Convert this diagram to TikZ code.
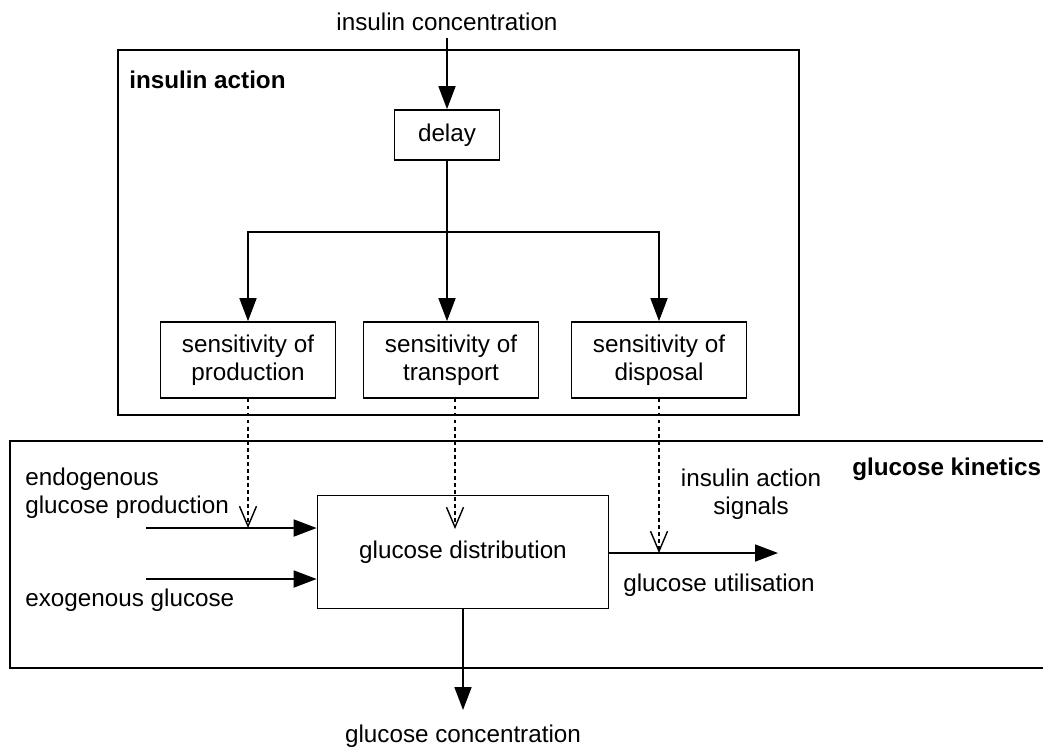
\documentclass[tikz,border=0pt]{standalone}
\usepackage{fontspec}
\setmainfont{Liberation Sans}
\usetikzlibrary{arrows.meta}
\tikzset{
  box/.style={draw, line width=1pt, align=center, inner sep=0pt},
  sens/.style={box, minimum width=3.5cm, minimum height=1.52cm},
  lbl/.style={inner sep=0pt, align=left},
  hdr/.style={lbl, font=\fontsize{13.8pt}{16pt}\selectfont\bfseries},
  frame/.style={line width=1pt},
  arr/.style={line width=1pt, -{Triangle[length=0.46cm, width=0.34cm]}},
  sig/.style={line width=0.9pt, dash pattern=on 2pt off 2pt,
    -{Straight Barb[length=0.4cm, width=0.34cm, line width=0.8pt]}},
}

\begin{document}
\begin{tikzpicture}[x=0.02cm, y=-0.02cm, font=\fontsize{13.8pt}{16pt}\selectfont]
	\useasboundingbox (0,0) rectangle (1043,752);
	\clip (0,0) rectangle (1043,752);
	
	%%%%% insulin action %%%%%
	\draw[frame] (118,50) rectangle (799,415);
	\node[hdr, anchor=west] (iatitle) at (129,80) {insulin action};
	
	\node[lbl, anchor=south, inner ysep=4pt] (inconc) at (447,38) {insulin concentration};
	\node[box, minimum width=2.1cm, minimum height=1cm] (delay) at (447,135) {delay};
	\node[sens] (prod) at (248,360) {sensitivity of\\production};
	\node[sens] (trans) at (451,360) {sensitivity of\\transport};
	\node[sens] (disp) at (659,360) {sensitivity of\\disposal};
	\coordinate (fork) at (447,232);
	
	\draw[arr] (inconc) -- (delay);
	\draw[arr] (delay) -- (delay |- trans.north);
	\draw[arr] (fork) -| (prod.north);
	\draw[arr] (fork) -| (disp.north);
	
	%%%%% glucose kinetics %%%%%
	\draw[frame] (10,441) rectangle (1060,668);
	\node[hdr, anchor=west] (gktitle) at (852,469) {glucose kinetics};
	
	\node[box, minimum width=5.82cm, minimum height=2.26cm] (dist) at (463,552) {glucose distribution};
	\node[lbl, anchor=west] (endo) at (25,493) {endogenous\\glucose production};
	\node[lbl, anchor=west] (exo) at (25,600) {exogenous glucose};
	\node[lbl, align=center] (iasig) at (751,494) {insulin action\\signals};
	\node[lbl, anchor=west] (util) at (623,585) {glucose utilisation};
	\node[lbl, anchor=north, inner ysep=8pt] (gconc) at (463,710) {glucose concentration};
	
	\coordinate (endoin) at (146,528);
	\coordinate (exoin) at (146,579);
	\coordinate (utilout) at (778,553);
	
	\draw[arr] (endoin) -- (endoin -| dist.west);
	\draw[arr] (exoin) -- (exoin -| dist.west);
	\draw[arr] (dist.east |- utilout) -- (utilout);
	\draw[arr] (dist) -- (gconc);
	
	% action signals
	\coordinate (prodtip) at (prod.south |- endoin);
	\coordinate (transtip) at (455,529);
	\coordinate (disptip) at (disp.south |- utilout);
	\draw[sig] (prod) -- (prodtip);
	\draw[sig] (trans.south -| transtip) -- (transtip);
	\draw[sig] (disp) -- (disptip);
\end{tikzpicture}
\end{document}
